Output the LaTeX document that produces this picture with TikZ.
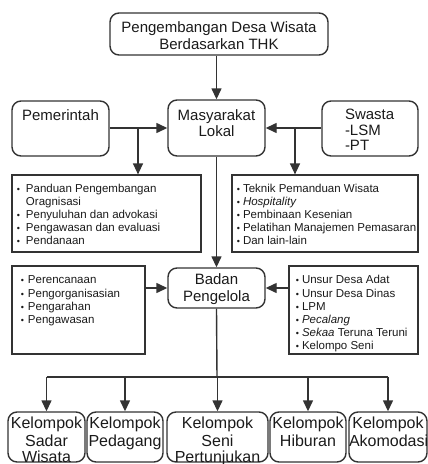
\documentclass[tikz,border=0pt]{standalone}
\usepackage{fontspec}
\setmainfont{Liberation Sans}
\usetikzlibrary{arrows.meta}
\definecolor{lc}{HTML}{333333}
\definecolor{tc}{HTML}{1A1A1A}
\newlength\bgap
\newcommand\tbx[4]{\parbox[c][#2][t]{#1}{\vspace*{#3}#4}}
\newcommand\itm{\par\leavevmode\llap{{\fontsize{9}{9}\selectfont\textbullet}\hspace{\bgap}}\strut}
\tikzset{
  rbox/.style={draw=lc, line width=1.4pt, rounded corners=9pt, inner sep=0pt, text=tc},
  sbox/.style={draw=lc, line width=1.2pt, inner sep=0pt, text=tc},
  arr/.style={draw=lc, line width=1.4pt, -{Triangle[length=11pt,width=10pt]}},
  ln/.style={draw=lc, line width=1.4pt}
}
\begin{document}
\begin{tikzpicture}[x=1pt,y=-1pt]
\useasboundingbox (0,0) rectangle (428,464);
\clip (0,0) rectangle (428,464);
% top
\node[rbox] (top) at (219,34) {\tbx{218pt}{42pt}{7.5pt}{\fontsize{15}{17}\selectfont\centering\strut Pengembangan Desa Wisata\\Berdasarkan THK}};
% second row
\node[rbox] (pem) at (60.5,128.5) {\tbx{97pt}{55pt}{7.8pt}{\fontsize{15}{16}\selectfont\centering\strut Pemerintah}};
\node[rbox] (mas) at (216.5,128) {\tbx{97pt}{56pt}{8.8pt}{\fontsize{15}{16}\selectfont\centering\strut Masyarakat\\Lokal}};
\node[rbox] (swa) at (370,128.5) {\tbx{96pt}{55pt}{8pt}{\fontsize{15}{15.5}\selectfont\raggedright\leftskip=23pt\strut Swasta\\-LSM\\-PT}};
% bullet boxes row 3
\node[sbox] (pan) at (106.5,213.5) {\tbx{189pt}{77pt}{8.6pt}{\fontsize{11.5}{13}\selectfont\raggedright\leftskip=14pt\setlength\bgap{6pt}%
  \itm Panduan Pengembangan\\Oragnisasi
  \itm Penyuluhan dan advokasi
  \itm Pengawasan dan evaluasi
  \itm Pendanaan}};
\node[sbox] (tek) at (325,213.5) {\tbx{186pt}{77pt}{8.6pt}{\fontsize{11.5}{13}\selectfont\raggedright\leftskip=11pt\setlength\bgap{3pt}%
  \itm Teknik Pemanduan Wisata
  \itm \textit{Hospitality}
  \itm Pembinaan Kesenian
  \itm Pelatihan Manajemen Pemasaran
  \itm Dan lain-lain}};
% row 4
\node[rbox] (bad) at (216.5,288) {\tbx{97pt}{40pt}{4.1pt}{\fontsize{15}{17}\selectfont\centering\strut Badan\\Pengelola}};
\node[sbox] (per) at (78.5,310) {\tbx{133pt}{88pt}{8.6pt}{\fontsize{11.5}{13.3}\selectfont\raggedright\leftskip=16pt\setlength\bgap{4pt}%
  \itm Perencanaan
  \itm Pengorganisasian
  \itm Pengarahan
  \itm Pengawasan}};
\node[sbox] (uns) at (353.5,310) {\tbx{129pt}{88pt}{8.6pt}{\fontsize{11.5}{13.2}\selectfont\raggedright\leftskip=13pt\setlength\bgap{3pt}%
  \itm Unsur Desa Adat
  \itm Unsur Desa Dinas
  \itm LPM
  \itm \textit{Pecalang}
  \itm \textit{Sekaa} Teruna Teruni
  \itm Kelompo Seni}};
% bottom row
\node[rbox] (b1) at (46.5,437) {\tbx{77pt}{50pt}{4.9pt}{\fontsize{16}{16.5}\selectfont\centering\strut Kelompok\\Sadar\\Wisata}};
\node[rbox] (b2) at (125,437) {\tbx{76pt}{50pt}{4.9pt}{\fontsize{16}{16.5}\selectfont\centering\strut Kelompok\\Pedagang}};
\node[rbox] (b3) at (217.5,437) {\tbx{101pt}{50pt}{4.9pt}{\fontsize{16}{16.5}\selectfont\centering\strut Kelompok\\Seni\\Pertunjukan}};
\node[rbox] (b4) at (308,437) {\tbx{76pt}{50pt}{4.9pt}{\fontsize{16}{16.5}\selectfont\centering\strut Kelompok\\Hiburan}};
\node[rbox] (b5) at (388,437) {\tbx{78pt}{50pt}{4.9pt}{\fontsize{16}{16.5}\selectfont\centering\strut Kelompok\\Akomodasi}};
% connectors
\coordinate (jl) at (138,128);
\coordinate (jr) at (295,128);
\coordinate (hub) at (217,377);
\draw[arr] (top.south -| mas.north) -- (mas.north);
\draw[arr] (pem.east |- mas.west) -- (mas.west);
\draw[arr] (swa.west |- mas.east) -- (mas.east);
\draw[arr] (jl) -- (jl |- pan.north);
\draw[arr] (jr) -- (jr |- tek.north);
\draw[arr] (mas.south) -- (bad.north);
\draw[arr] (bad.west -| per.east) -- (bad.west);
\draw[arr] (bad.east -| uns.west) -- (bad.east);
\draw[ln] (bad.south) -- (hub);
\draw[ln] (b1.north |- hub) -- (b5.north |- hub);
\foreach \b in {b1,b2,b3,b4,b5} \draw[arr] (\b.north |- hub) -- (\b.north);
\end{tikzpicture}
\end{document}
